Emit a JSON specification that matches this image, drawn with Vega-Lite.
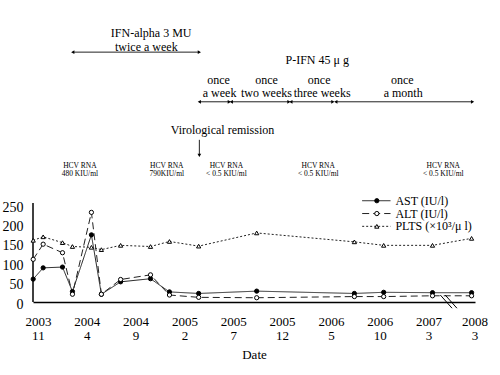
{
  "$schema": "https://vega.github.io/schema/vega-lite/v6.json",
  "width": 442,
  "height": 291,
  "autosize": {"type": "none"},
  "padding": {"left": 33, "top": 11, "right": 25, "bottom": 73},
  "background": "white",
  "config": {
    "view": {"stroke": null},
    "font": "Liberation Serif",
    "text": {"font": "Liberation Serif", "color": "black"}
  },
  "datasets": {
    "series": [
      {"s": "AST", "x": -0.48, "y": 59}, {"s": "AST", "x": 0.54, "y": 88}, {"s": "AST", "x": 2.52, "y": 90},
      {"s": "AST", "x": 3.54, "y": 27}, {"s": "AST", "x": 5.48, "y": 173}, {"s": "AST", "x": 6.5, "y": 20},
      {"s": "AST", "x": 8.47, "y": 52}, {"s": "AST", "x": 11.53, "y": 60}, {"s": "AST", "x": 13.47, "y": 26},
      {"s": "AST", "x": 16.46, "y": 22}, {"s": "AST", "x": 22.4, "y": 28}, {"s": "AST", "x": 32.4, "y": 22},
      {"s": "AST", "x": 35.4, "y": 25}, {"s": "AST", "x": 40.4, "y": 24}, {"s": "AST", "x": 44.4, "y": 24},
      {"s": "ALT", "x": -0.48, "y": 110}, {"s": "ALT", "x": 0.54, "y": 149}, {"s": "ALT", "x": 2.52, "y": 127},
      {"s": "ALT", "x": 3.54, "y": 20}, {"s": "ALT", "x": 5.48, "y": 231}, {"s": "ALT", "x": 6.5, "y": 20},
      {"s": "ALT", "x": 8.47, "y": 58}, {"s": "ALT", "x": 11.53, "y": 70}, {"s": "ALT", "x": 13.47, "y": 18},
      {"s": "ALT", "x": 16.46, "y": 12}, {"s": "ALT", "x": 22.4, "y": 11}, {"s": "ALT", "x": 32.4, "y": 14},
      {"s": "ALT", "x": 35.4, "y": 14}, {"s": "ALT", "x": 40.4, "y": 16}, {"s": "ALT", "x": 44.4, "y": 16},
      {"s": "PLTS", "x": -0.48, "y": 159}, {"s": "PLTS", "x": 0.54, "y": 168}, {"s": "PLTS", "x": 2.52, "y": 153},
      {"s": "PLTS", "x": 3.54, "y": 143}, {"s": "PLTS", "x": 5.48, "y": 141}, {"s": "PLTS", "x": 6.5, "y": 135},
      {"s": "PLTS", "x": 8.47, "y": 146}, {"s": "PLTS", "x": 11.53, "y": 143}, {"s": "PLTS", "x": 13.47, "y": 156},
      {"s": "PLTS", "x": 16.46, "y": 144}, {"s": "PLTS", "x": 22.4, "y": 178}, {"s": "PLTS", "x": 32.4, "y": 155},
      {"s": "PLTS", "x": 35.4, "y": 146}, {"s": "PLTS", "x": 40.4, "y": 146}, {"s": "PLTS", "x": 44.4, "y": 164}
    ],
    "legendLines": [
      {"s": "AST", "x": 33.2, "x2": 36.1, "y": 261},
      {"s": "ALT", "x": 33.2, "x2": 36.1, "y": 228},
      {"s": "PLTS", "x": 33.2, "x2": 36.1, "y": 195}
    ],
    "legendMarks": [
      {"s": "AST", "x": 34.7, "y": 261},
      {"s": "ALT", "x": 34.7, "y": 228},
      {"s": "PLTS", "x": 34.7, "y": 195}
    ],
    "legendText": [
      {"x": 36.6, "y": 261, "t": "AST (IU/l)"},
      {"x": 36.6, "y": 228, "t": "ALT (IU/l)"},
      {"x": 36.6, "y": 195, "t": "PLTS (×10³/μ l)"}
    ],
    "annot": [
      {"x": 11.6, "y": 693, "t": "IFN-alpha 3 MU"},
      {"x": 11.1, "y": 657, "t": "twice a week"},
      {"x": 28.6, "y": 624, "t": "P-IFN 45  μ g"},
      {"x": 18.5, "y": 572, "t": "once"},
      {"x": 18.6, "y": 539, "t": "a week"},
      {"x": 23.4, "y": 572, "t": "once"},
      {"x": 23.4, "y": 539, "t": "two weeks"},
      {"x": 28.8, "y": 572, "t": "once"},
      {"x": 29.1, "y": 539, "t": "three weeks"},
      {"x": 37.3, "y": 572, "t": "once"},
      {"x": 37.4, "y": 539, "t": "a month"},
      {"x": 18.9, "y": 443, "t": "Virological remission"}
    ],
    "hcv": [
      {"x": 4.3, "y": 351, "t": "HCV RNA"}, {"x": 4.3, "y": 330, "t": "480 KIU/ml"},
      {"x": 13.2, "y": 351, "t": "HCV RNA"}, {"x": 13.2, "y": 330, "t": "790KIU/ml"},
      {"x": 19.3, "y": 351, "t": "HCV RNA"}, {"x": 19.3, "y": 330, "t": "< 0.5 KIU/ml"},
      {"x": 28.7, "y": 351, "t": "HCV RNA"}, {"x": 28.7, "y": 330, "t": "< 0.5 KIU/ml"},
      {"x": 41.5, "y": 351, "t": "HCV RNA"}, {"x": 41.5, "y": 330, "t": "< 0.5 KIU/ml"}
    ],
    "arrows": [
      {"x": 3.57, "x2": 16.53, "y": 644},
      {"x": 16.53, "x2": 19.6, "y": 516},
      {"x": 19.8, "x2": 25.7, "y": 516},
      {"x": 25.9, "x2": 30.2, "y": 516},
      {"x": 30.5, "x2": 44.5, "y": 516}
    ],
    "heads": [
      {"x": 3.57, "y": 644, "d": "L"}, {"x": 16.53, "y": 644, "d": "R"},
      {"x": 16.53, "y": 516, "d": "L"}, {"x": 19.6, "y": 516, "d": "R"},
      {"x": 19.8, "y": 516, "d": "L"}, {"x": 25.7, "y": 516, "d": "R"},
      {"x": 25.9, "y": 516, "d": "L"}, {"x": 30.2, "y": 516, "d": "R"},
      {"x": 30.5, "y": 516, "d": "L"}, {"x": 44.5, "y": 516, "d": "R"},
      {"x": 16.53, "y": 378, "d": "D"}
    ]
  },
  "encoding": {
    "x": {
      "field": "x", "type": "quantitative",
      "scale": {"domain": [-0.5, 44.75], "nice": false, "zero": false},
      "axis": {
        "values": [0, 5, 10, 15, 20, 25, 30, 35, 40, 44.7],
        "labelExpr": "split(['2003|11','2004|4','2004|9','2005|2','2005|7','2005|12','2006|5','2006|10','2007|3','2008|3'][round(datum.value/5)], '|')",
        "labelFont": "Liberation Serif", "labelFontSize": 13, "labelColor": "black",
        "labelLineHeight": 14, "labelPadding": 13, "labelFlush": false, "labelOverlap": false,
        "ticks": false, "grid": false,
        "domainColor": "black", "domainWidth": 1.5,
        "title": "Date", "titleFont": "Liberation Serif", "titleFontSize": 13,
        "titleFontWeight": "normal", "titleColor": "black", "titlePadding": 6
      }
    },
    "y": {
      "field": "y", "type": "quantitative",
      "scale": {"domain": [0, 750], "nice": false},
      "axis": {
        "values": [0, 50, 100, 150, 200, 250],
        "labelFont": "Liberation Serif", "labelFontSize": 14, "labelColor": "black",
        "labelPadding": 10, "labelOffset": 2, "domain": false, "ticks": false, "grid": false, "title": null
      }
    }
  },
  "layer": [
    {
      "data": {"values": [{"x": -0.5, "y": 0, "y2": 255}]},
      "mark": {"type": "rule", "color": "black", "strokeWidth": 1.5},
      "encoding": {"y2": {"field": "y2"}}
    },
    {
      "data": {"name": "series"},
      "mark": {"type": "line", "stroke": "#222", "strokeWidth": 1},
      "encoding": {
        "detail": {"field": "s"},
        "strokeDash": {"field": "s", "type": "nominal", "scale": {"domain": ["AST", "ALT", "PLTS"], "range": [[1, 0], [7, 4], [2, 2]]}, "legend": null}
      }
    },
    {
      "data": {"name": "series"},
      "mark": {"type": "point", "stroke": "black", "strokeWidth": 1, "opacity": 1, "filled": false},
      "encoding": {
        "shape": {"field": "s", "type": "nominal", "scale": {"domain": ["AST", "ALT", "PLTS"], "range": ["circle", "circle", "triangle-up"]}, "legend": null},
        "fill": {"field": "s", "type": "nominal", "scale": {"domain": ["AST", "ALT", "PLTS"], "range": ["black", "white", "white"]}, "legend": null},
        "size": {"field": "s", "type": "nominal", "scale": {"domain": ["AST", "ALT", "PLTS"], "range": [18, 18, 14]}, "legend": null}
      }
    },
    {
      "data": {"name": "legendLines"},
      "mark": {"type": "rule", "stroke": "#222", "strokeWidth": 1},
      "encoding": {
        "x2": {"field": "x2"},
        "strokeDash": {"field": "s", "type": "nominal", "legend": null}
      }
    },
    {
      "data": {"name": "legendMarks"},
      "mark": {"type": "point", "stroke": "black", "strokeWidth": 1, "opacity": 1, "filled": false},
      "encoding": {
        "shape": {"field": "s", "type": "nominal", "legend": null},
        "fill": {"field": "s", "type": "nominal", "legend": null},
        "size": {"field": "s", "type": "nominal", "legend": null}
      }
    },
    {
      "data": {"name": "legendText"},
      "mark": {"type": "text", "align": "left", "baseline": "middle", "fontSize": 12},
      "encoding": {"text": {"field": "t"}}
    },
    {
      "data": {"values": [
        {"x": 41.2, "x2": 42.4, "y": 18, "y2": -16},
        {"x": 41.7, "x2": 42.9, "y": 18, "y2": -16}
      ]},
      "mark": {"type": "rule", "color": "black", "strokeWidth": 1, "clip": false},
      "encoding": {"x2": {"field": "x2"}, "y2": {"field": "y2"}}
    },
    {
      "data": {"name": "annot"},
      "mark": {"type": "text", "align": "center", "baseline": "middle", "fontSize": 12},
      "encoding": {"text": {"field": "t"}}
    },
    {
      "data": {"name": "hcv"},
      "mark": {"type": "text", "align": "center", "baseline": "middle", "fontSize": 7.5},
      "encoding": {"text": {"field": "t"}}
    },
    {
      "data": {"name": "arrows"},
      "mark": {"type": "rule", "color": "#222", "strokeWidth": 1},
      "encoding": {"x2": {"field": "x2"}}
    },
    {
      "data": {"values": [{"x": 16.53, "y": 418, "y2": 380}]},
      "mark": {"type": "rule", "color": "#222", "strokeWidth": 1},
      "encoding": {"y2": {"field": "y2"}}
    },
    {
      "data": {"name": "heads"},
      "transform": [{"filter": "datum.d === 'L'"}],
      "mark": {"type": "point", "shape": "triangle-left", "filled": true, "color": "black", "size": 14, "opacity": 1}
    },
    {
      "data": {"name": "heads"},
      "transform": [{"filter": "datum.d === 'R'"}],
      "mark": {"type": "point", "shape": "triangle-right", "filled": true, "color": "black", "size": 14, "opacity": 1}
    },
    {
      "data": {"name": "heads"},
      "transform": [{"filter": "datum.d === 'D'"}],
      "mark": {"type": "point", "shape": "triangle-down", "filled": true, "color": "black", "size": 14, "opacity": 1}
    }
  ]
}
